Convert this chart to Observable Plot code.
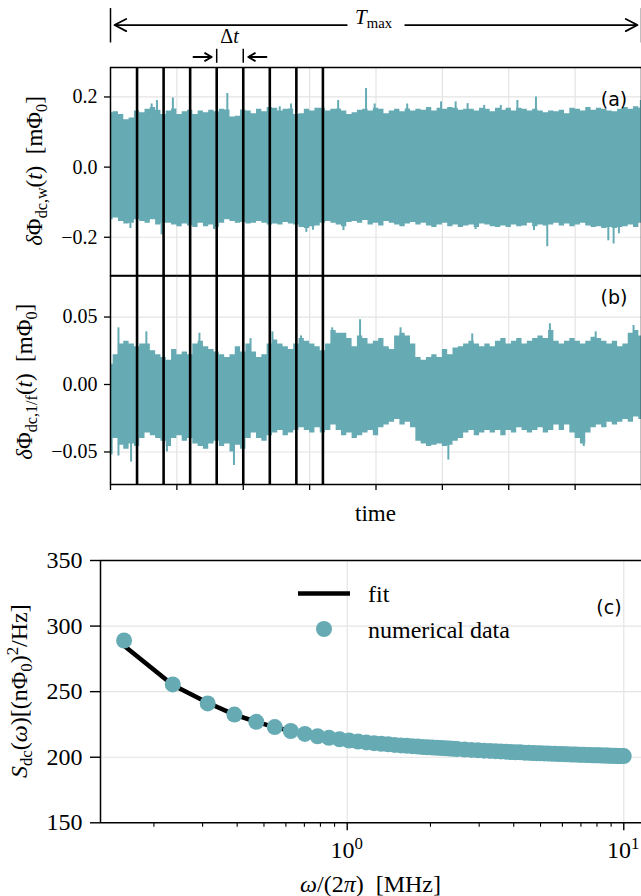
<!DOCTYPE html>
<html><head><meta charset="utf-8">
<script src="https://cdn.jsdelivr.net/npm/d3@7"></script>
<script src="https://cdn.jsdelivr.net/npm/@observablehq/plot@0.6"></script>
<style>
body{margin:0;background:#fff;}
#fig{width:641px;height:896px;overflow:hidden;display:flex;flex-direction:column;}
#fig svg{display:block;overflow:visible;flex:none;}
</style></head><body><div id="fig"></div>
<script>
const TEAL = "#66abb4";
const GRID = "#e4e4e4";
const SERIF = "'Liberation Serif','Times New Roman',serif";
const SANS = "'DejaVu Sans',sans-serif";

// ---- time axis (panels a, b) ----
const T_MAX = 8;
const SAMPLE_STEP = 0.08;
const timeTicks = [0, 1, 2, 3, 4, 5, 6, 7, 8];
const cutTimes = [0.4, 0.8, 1.2, 1.6, 2.0, 2.4, 2.8, 3.2];

// ---- panel (a): white-noise trace, envelope ----
const aYTicks = [-0.2, 0.0, 0.2];
const aUpper = [
 0.155,0.158,0.150,0.135,0.140,0.160,0.155,0.165,0.170,0.162,
 0.150,0.160,0.166,0.150,0.158,0.162,0.150,0.160,0.155,0.162,
 0.158,0.165,0.163,0.143,0.145,0.163,0.160,0.152,0.165,0.158,
 0.170,0.168,0.160,0.165,0.166,0.150,0.152,0.165,0.160,0.168,
 0.168,0.160,0.165,0.166,0.160,0.150,0.155,0.162,0.165,0.160,
 0.168,0.165,0.152,0.160,0.165,0.158,0.166,0.160,0.165,0.162,
 0.170,0.160,0.168,0.165,0.170,0.168,0.162,0.165,0.165,0.160,
 0.168,0.165,0.158,0.168,0.162,0.168,0.160,0.168,0.165,0.160,
 0.165,0.160,0.155,0.160,0.158,0.162,0.152,0.168,0.165,0.160,
 0.170,0.162,0.168,0.165,0.160,0.158,0.165,0.170,0.165,0.172,
 0.168];
const aLower = [
 -0.150,-0.145,-0.155,-0.162,-0.160,-0.150,-0.155,-0.160,-0.150,-0.165,
 -0.160,-0.160,-0.165,-0.170,-0.162,-0.168,-0.172,-0.160,-0.170,-0.165,
 -0.172,-0.160,-0.150,-0.155,-0.160,-0.158,-0.162,-0.160,-0.155,-0.160,
 -0.165,-0.162,-0.165,-0.158,-0.162,-0.165,-0.172,-0.175,-0.170,-0.168,
 -0.160,-0.155,-0.160,-0.165,-0.170,-0.158,-0.155,-0.160,-0.152,-0.165,
 -0.160,-0.168,-0.155,-0.160,-0.165,-0.170,-0.162,-0.158,-0.165,-0.160,
 -0.168,-0.172,-0.165,-0.160,-0.170,-0.165,-0.172,-0.168,-0.165,-0.172,
 -0.162,-0.165,-0.170,-0.172,-0.168,-0.172,-0.165,-0.170,-0.168,-0.160,
 -0.170,-0.165,-0.168,-0.165,-0.160,-0.168,-0.162,-0.170,-0.165,-0.160,
 -0.168,-0.172,-0.170,-0.175,-0.172,-0.175,-0.172,-0.170,-0.165,-0.172,
 -0.160];
const aSpikeT = [0.62,0.70,0.94,1.76,2.55,2.72,3.20,3.43,3.85,3.98,4.47,4.98,5.20,5.38,5.63,5.88,6.13,6.41,7.99,
                 0.30,0.77,1.56,2.40,2.95,3.05,3.51,5.50,6.38,6.58,7.50,7.58,7.66];
const aSpikeV = [0.180,0.190,0.197,0.210,0.172,0.180,0.175,0.190,0.224,0.180,0.180,0.186,0.186,0.181,0.176,0.176,0.190,0.200,0.190,
                 -0.175,-0.193,-0.178,-0.205,-0.186,-0.180,-0.181,-0.178,-0.181,-0.227,-0.210,-0.219,-0.190];

// ---- panel (b): 1/f-noise trace ----
const bYTicks = [-0.05, 0.00, 0.05];
const bUpper = [
 0.015,0.022,0.030,0.032,0.030,0.028,0.030,0.030,0.025,0.022,
 0.020,0.018,0.026,0.022,0.024,0.022,0.030,0.032,0.028,0.026,
 0.024,0.022,0.020,0.022,0.028,0.024,0.030,0.024,0.020,0.022,
 0.030,0.033,0.030,0.028,0.026,0.030,0.034,0.032,0.030,0.028,
 0.025,0.030,0.040,0.038,0.038,0.034,0.028,0.036,0.034,0.030,
 0.032,0.034,0.028,0.026,0.036,0.038,0.036,0.030,0.020,0.018,
 0.020,0.022,0.020,0.026,0.022,0.027,0.028,0.030,0.032,0.030,
 0.028,0.030,0.028,0.032,0.034,0.030,0.032,0.034,0.030,0.032,
 0.034,0.036,0.034,0.040,0.032,0.030,0.032,0.034,0.032,0.030,
 0.032,0.035,0.034,0.032,0.030,0.032,0.028,0.030,0.038,0.040,
 0.036];
const bLower = [
 -0.052,-0.040,-0.045,-0.048,-0.044,-0.046,-0.040,-0.036,-0.038,-0.040,
 -0.042,-0.046,-0.040,-0.038,-0.042,-0.040,-0.044,-0.046,-0.048,-0.044,
 -0.042,-0.046,-0.044,-0.050,-0.045,-0.048,-0.040,-0.036,-0.040,-0.042,
 -0.038,-0.036,-0.034,-0.038,-0.036,-0.034,-0.032,-0.034,-0.036,-0.032,
 -0.036,-0.034,-0.030,-0.034,-0.038,-0.036,-0.040,-0.038,-0.036,-0.034,
 -0.038,-0.032,-0.030,-0.028,-0.026,-0.030,-0.028,-0.032,-0.042,-0.044,
 -0.046,-0.045,-0.044,-0.046,-0.045,-0.042,-0.040,-0.036,-0.034,-0.038,
 -0.036,-0.034,-0.036,-0.034,-0.038,-0.034,-0.036,-0.032,-0.034,-0.036,
 -0.034,-0.032,-0.036,-0.034,-0.030,-0.034,-0.030,-0.036,-0.040,-0.044,
 -0.036,-0.032,-0.030,-0.032,-0.028,-0.030,-0.028,-0.026,-0.028,-0.024,
 -0.026];
const bSpikeT = [0.12,0.54,1.34,2.11,2.44,2.87,3.34,3.76,4.37,5.45,6.62,7.31,7.88,
                 0.12,0.31,0.85,1.86,5.09,7.13];
const bSpikeV = [0.042,0.039,0.038,0.034,0.039,0.036,0.042,0.048,0.042,0.0375,0.045,0.039,0.0437,
                 -0.053,-0.0575,-0.050,-0.060,-0.056,-0.046];

// ---- panel (c): spectrum ----
const specF = [
 0.156,0.234,0.313,0.391,0.469,0.547,0.625,0.703,0.781,0.859,
 0.938,1.016,1.094,1.172,1.25,1.328,1.406,1.484,1.563,1.641,
 1.719,1.797,1.875,1.953,2.031,2.109,2.188,2.266,2.344,2.422,
 2.5,2.656,2.813,2.969,3.125,3.281,3.438,3.594,3.75,3.906,
 4.063,4.219,4.375,4.531,4.688,4.844,5.0,5.156,5.313,5.469,
 5.625,5.781,5.938,6.094,6.25,6.406,6.563,6.719,6.875,7.031,
 7.188,7.344,7.5,7.656,7.813,7.969,8.125,8.281,8.438,8.594,
 8.75,8.906,9.063,9.219,9.375,9.531,9.688,9.844,10.0];
const specS = [
 289,255.5,241,232.5,227,223,220,217.8,216,214.8,
 213.7,212.7,212,211.3,210.7,210.2,209.8,209.4,209,208.7,
 208.4,208.1,207.8,207.6,207.4,207.2,207,206.8,206.6,206.4,
 206.2,205.9,205.6,205.3,205.0,204.8,204.6,204.4,204.2,204.0,
 203.8,203.7,203.5,203.4,203.2,203.1,203.0,202.9,202.8,202.7,
 202.6,202.5,202.4,202.3,202.2,202.15,202.1,202.0,201.95,201.9,
 201.8,201.75,201.7,201.6,201.55,201.5,201.45,201.4,201.35,201.3,
 201.25,201.2,201.15,201.1,201.05,201.0,200.95,200.9,200.85];
const fitF = [0.156,0.234,0.313,0.391,0.469,0.547,0.625,0.781,1.0,1.5,2.0,3.0,5.0,7.5,10.0];
const fitS = [285,255,241.5,232.5,227,223,220,216,212.8,209.5,207.5,205.2,203,201.7,200.85];
const cYTicks = [150, 200, 250, 300, 350];
const cMajor = [1, 10];
const cMinor = [0.2,0.3,0.4,0.5,0.6,0.7,0.8,0.9,2,3,4,5,6,7,8,9];

// ---- build tables ----
const band = (up, lo) => up.slice(0, Math.min(up.length, lo.length)).map((u, i) => ({t: +(i * SAMPLE_STEP).toFixed(2), hi: u, lo: lo[i]}));
const spikes = (ts, vs) => ts.map((t, i) => ({t, v: vs[i]}));
const dataA = band(aUpper, aLower), dataB = band(bUpper, bLower);
const spA = spikes(aSpikeT, aSpikeV), spB = spikes(bSpikeT, bSpikeV);
const spec = specF.map((f, i) => ({f, s: specS[i]}));
const fit = fitF.map((f, i) => ({f, s: fitS[i]}));

const minusFmt = k => d => (d < 0 ? "\u2212" : "") + Math.abs(d).toFixed(k);
const styleStr = size => `font-family: ${SERIF}; font-size: ${size}px; color: #000; background: transparent; overflow: visible;`;

function serifize(svg, size) {
  d3.select(svg).selectAll("text").style("font-family", SERIF).style("font-size", size + "px").attr("fill", "#000");
}

function rich(svg, x, y, parts, {size = 23, anchor = "middle", rotate = 0, family = SERIF} = {}) {
  const t = d3.select(svg).append("text")
    .attr("transform", `translate(${x},${y})` + (rotate ? ` rotate(${rotate})` : ""))
    .attr("text-anchor", anchor)
    .style("font-family", family).style("font-size", size + "px")
    .attr("fill", "#000").style("white-space", "pre");
  let shift = 0;
  for (const p of parts) {
    const target = p.sub ? size * 0.22 : p.sup ? -size * 0.38 : 0;
    const s = t.append("tspan").text(p.t);
    if (target !== shift) s.attr("dy", target - shift);
    shift = target;
    if (p.sub || p.sup) s.style("font-size", (size * 0.7) + "px");
    if (p.it) s.attr("font-style", "italic");
  }
  return t;
}

// annotation heights expressed in panel (a) data units (above the frame)
const ANN = {barTop: 0.452, barBot: 0.354, tmax: 0.405, small: 0.314, sTop: 0.336, sBot: 0.296};
const tmaxArrows = [{x1: T_MAX / 2 - 0.44, x2: 0}, {x1: T_MAX / 2 + 0.44, x2: T_MAX}];
const dtArrows = [{x1: cutTimes[3] - 0.35, x2: cutTimes[3]}, {x1: cutTimes[4] + 0.35, x2: cutTimes[4]}];

const fig = document.getElementById("fig");

// ---------- panel (a) ----------
const plotA = Plot.plot({
  width: 641, height: 275, marginLeft: 110, marginRight: 0, marginTop: 67, marginBottom: 0,
  style: styleStr(20),
  x: {domain: [0, T_MAX], axis: null},
  y: {domain: [-0.309, 0.284], axis: null},
  marks: [
    Plot.ruleX(timeTicks.slice(1, -1), {stroke: GRID, strokeWidth: 1.2}),
    Plot.ruleY(aYTicks, {stroke: GRID, strokeWidth: 1.2}),
    Plot.areaY(dataA, {x: "t", y1: "lo", y2: "hi", fill: TEAL, curve: "step"}),
    Plot.ruleX(spA, {x: "t", y1: 0, y2: "v", stroke: TEAL, strokeWidth: 2}),
    Plot.ruleX(cutTimes, {stroke: "black", strokeWidth: 2.6}),
    Plot.frame({stroke: "black", strokeWidth: 1.5}),
    Plot.axisY({ticks: aYTicks, tickSize: 6, tickPadding: 7, tickFormat: minusFmt(1), label: null, strokeWidth: 1.3}),
    // T_max annotation
    Plot.ruleX([0, T_MAX], {y1: ANN.barTop, y2: ANN.barBot, stroke: "black", strokeWidth: 1.5}),
    Plot.arrow(tmaxArrows, {x1: "x1", x2: "x2", y1: ANN.tmax, y2: ANN.tmax, stroke: "black", strokeWidth: 1.8, headLength: 11, headAngle: 55, insetEnd: 4}),
    // Δt annotation
    Plot.ruleX([cutTimes[3], cutTimes[4]], {y1: ANN.sTop, y2: ANN.sBot, stroke: "black", strokeWidth: 1.5}),
    Plot.arrow(dtArrows, {x1: "x1", x2: "x2", y1: ANN.small, y2: ANN.small, stroke: "black", strokeWidth: 1.8, headLength: 9, headAngle: 60, insetEnd: 5})
  ]
});
fig.appendChild(plotA);
serifize(plotA, 20);
{
  const xs = plotA.scale("x"), ys = plotA.scale("y");
  const tx = xs.apply(T_MAX / 2);
  rich(plotA, tx - 2, 23.5, [{t: "T", it: 1}, {t: "max", sub: 1}], {size: 21});
  rich(plotA, xs.apply((cutTimes[3] + cutTimes[4]) / 2), 43, [{t: "\u0394"}, {t: "t", it: 1}], {size: 20});
  const [r0, r1] = ys.range;
  rich(plotA, 42, (r0 + r1) / 2, [{t: "\u03b4", it: 1}, {t: "\u03a6"}, {t: "dc,w", sub: 1}, {t: "("}, {t: "t", it: 1}, {t: ")  [m\u03a6"}, {t: "0", sub: 1}, {t: "]"}], {size: 23, rotate: -90});
  rich(plotA, 614, 106, [{t: "(a)"}], {size: 19, family: SANS});
}

// ---------- panel (b) ----------
const plotB = Plot.plot({
  width: 641, height: 255, marginLeft: 110, marginRight: 0, marginTop: 0.5, marginBottom: 46,
  style: styleStr(20),
  x: {domain: [0, T_MAX], axis: null},
  y: {domain: [-0.0741, 0.0804], axis: null},
  marks: [
    Plot.ruleX(timeTicks.slice(1, -1), {stroke: GRID, strokeWidth: 1.2}),
    Plot.ruleY(bYTicks, {stroke: GRID, strokeWidth: 1.2}),
    Plot.areaY(dataB, {x: "t", y1: "lo", y2: "hi", fill: TEAL, curve: "step"}),
    Plot.ruleX(spB, {x: "t", y1: 0, y2: "v", stroke: TEAL, strokeWidth: 2}),
    Plot.ruleX(cutTimes, {stroke: "black", strokeWidth: 2.6}),
    Plot.frame({stroke: "black", strokeWidth: 1.5}),
    Plot.axisY({ticks: bYTicks, tickSize: 6, tickPadding: 7, tickFormat: minusFmt(2), label: null, strokeWidth: 1.3}),
    Plot.axisX({ticks: timeTicks, tickSize: 6, tickFormat: () => "", label: null, strokeWidth: 1.3})
  ]
});
fig.appendChild(plotB);
serifize(plotB, 20);
{
  const [r0, r1] = plotB.scale("y").range;
  const [c0, c1] = plotB.scale("x").range;
  rich(plotB, (c0 + c1) / 2, Math.max(r0, r1) + 37, [{t: "time"}], {size: 23});
  rich(plotB, 32, (r0 + r1) / 2 + 2, [{t: "\u03b4", it: 1}, {t: "\u03a6"}, {t: "dc,1/f", sub: 1}, {t: "("}, {t: "t", it: 1}, {t: ")  [m\u03a6"}, {t: "0", sub: 1}, {t: "]"}], {size: 23, rotate: -90});
  rich(plotB, 614, 29, [{t: "(b)"}], {size: 19, family: SANS});
}

// ---------- panel (c) ----------
const X_DOMAIN_C = [0.1282, 11.59];
const plotC = Plot.plot({
  width: 641, height: 366, marginLeft: 100, marginRight: 0, marginTop: 30, marginBottom: 73.7,
  style: styleStr(24),
  x: {type: "log", domain: X_DOMAIN_C, axis: null},
  y: {domain: [150, 350], axis: null},
  marks: [
    Plot.ruleX(cMajor, {stroke: GRID, strokeWidth: 1.2}),
    Plot.ruleY(cYTicks.slice(1, -1), {stroke: GRID, strokeWidth: 1.2}),
    Plot.line(fit, {x: "f", y: "s", stroke: "black", strokeWidth: 4.5}),
    Plot.dot(spec, {x: "f", y: "s", r: 8, fill: TEAL, stroke: null}),
    Plot.ruleY([350], {stroke: "black", strokeWidth: 1.5}),
    Plot.ruleY([150], {stroke: "black", strokeWidth: 1.5}),
    Plot.ruleX([X_DOMAIN_C[0]], {stroke: "black", strokeWidth: 1.5}),
    Plot.axisY({ticks: cYTicks, tickSize: 10, tickPadding: 8, label: null, strokeWidth: 1.4}),
    Plot.axisX({ticks: cMajor, tickSize: 8, tickFormat: () => "", label: null, strokeWidth: 1.4}),
    Plot.axisX({ticks: cMinor, tickSize: 4.5, tickFormat: () => "", label: null, strokeWidth: 1.1})
  ]
});
fig.appendChild(plotC);
serifize(plotC, 24);
{
  const xs = plotC.scale("x"), ys = plotC.scale("y");
  const [r0, r1] = ys.range;
  const bottom = Math.max(r0, r1);
  for (const [v, e] of [[1, "0"], [10, "1"]]) {
    rich(plotC, xs.apply(v), bottom + 36, [{t: "10"}, {t: e, sup: 1}], {size: 24});
  }
  const [c0, c1] = xs.range;
  rich(plotC, (c0 + c1) / 2, bottom + 70, [{t: "\u03c9", it: 1}, {t: "/(2"}, {t: "\u03c0", it: 1}, {t: ")  [MHz]"}], {size: 24});
  rich(plotC, 27, (r0 + r1) / 2, [{t: "S", it: 1}, {t: "dc", sub: 1}, {t: "("}, {t: "\u03c9", it: 1}, {t: ")[(n\u03a6"}, {t: "0", sub: 1}, {t: ")"}, {t: "2", sup: 1}, {t: "/Hz]"}], {size: 24, rotate: -90});
  // legend
  const svg = d3.select(plotC);
  svg.append("line").attr("x1", 298).attr("x2", 350).attr("y1", 63.5).attr("y2", 63.5)
    .attr("stroke", "black").attr("stroke-width", 4.5);
  svg.append("circle").attr("cx", 324).attr("cy", 99).attr("r", 8).attr("fill", TEAL);
  rich(plotC, 368, 72, [{t: "fit"}], {size: 24, anchor: "start"});
  rich(plotC, 368, 107.5, [{t: "numerical data"}], {size: 24, anchor: "start"});
  rich(plotC, 609, 84, [{t: "(c)"}], {size: 19, family: SANS});
}
</script></body></html>
